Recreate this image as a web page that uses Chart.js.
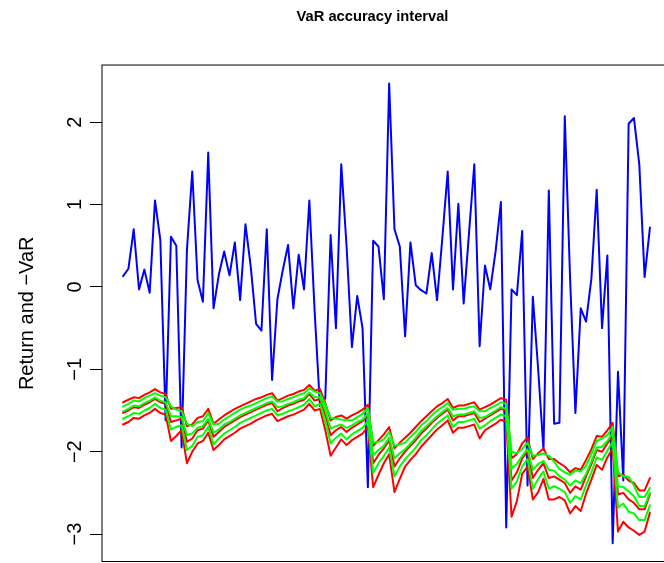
<!DOCTYPE html>
<html>
<head>
<meta charset="utf-8">
<script src="https://cdn.jsdelivr.net/npm/chart.js@4.4.0/dist/chart.umd.min.js"></script>
<style>
  html, body { margin: 0; padding: 0; background: #fff; overflow: hidden; }
  #wrap { width: 745px; height: 563px; }
</style>
</head>
<body>
<div id="wrap"><canvas id="varChart"></canvas></div>
<script>
// daily returns (blue)
const returns = [
  0.13, 0.22, 0.70, -0.03, 0.21, -0.07, 1.05, 0.57, -1.62, 0.61,
  0.50, -1.95, 0.45, 1.40, 0.08, -0.18, 1.63, -0.26, 0.15, 0.43,
  0.14, 0.54, -0.16, 0.76, 0.24, -0.45, -0.53, 0.70, -1.13, -0.15,
  0.20, 0.51, -0.26, 0.39, -0.03, 1.05, -0.30, -1.45, -1.35, 0.63,
  -0.50, 1.49, 0.49, -0.73, -0.11, -0.50, -2.43, 0.56, 0.49, -0.15,
  2.47, 0.70, 0.49, -0.60, 0.54, 0.02, -0.04, -0.08, 0.41, -0.16,
  0.60, 1.40, -0.03, 1.01, -0.20, 0.65, 1.49, -0.72, 0.26, -0.03,
  0.43, 1.03, -2.92, -0.03, -0.10, 0.68, -2.41, -0.12, -1.00, -1.98,
  1.17, -1.66, -1.65, 2.07, 0.10, -1.53, -0.26, -0.42, 0.10, 1.18,
  -0.50, 0.38, -3.11, -1.03, -2.35, 1.98, 2.05, 1.49, 0.12, 0.72
];

// -VaR, red: upper, middle, lower
const redUpper = [
  -1.40, -1.37, -1.34, -1.35, -1.31, -1.28, -1.24, -1.28, -1.30, -1.48,
  -1.47, -1.46, -1.69, -1.67, -1.59, -1.57, -1.48, -1.66, -1.61, -1.56,
  -1.52, -1.48, -1.45, -1.42, -1.39, -1.36, -1.34, -1.31, -1.29, -1.38,
  -1.35, -1.32, -1.30, -1.27, -1.25, -1.19, -1.26, -1.24, -1.41, -1.62,
  -1.58, -1.56, -1.60, -1.56, -1.53, -1.49, -1.43, -1.93, -1.86, -1.79,
  -1.70, -1.96, -1.89, -1.83, -1.77, -1.70, -1.63, -1.57, -1.51, -1.45,
  -1.41, -1.36, -1.47, -1.44, -1.44, -1.42, -1.40, -1.49, -1.46, -1.43,
  -1.39, -1.35, -1.37, -2.08, -2.03, -1.90, -1.83, -2.09, -2.02, -1.96,
  -2.09, -2.09, -2.14, -2.18, -2.25, -2.20, -2.22, -2.10, -1.97, -1.81,
  -1.82, -1.74, -1.65, -2.30, -2.28, -2.35, -2.38, -2.47, -2.47, -2.32
];
const redMid = [
  -1.53, -1.50, -1.46, -1.47, -1.43, -1.40, -1.36, -1.40, -1.42, -1.64,
  -1.62, -1.60, -1.88, -1.84, -1.74, -1.72, -1.62, -1.82, -1.76, -1.70,
  -1.66, -1.62, -1.58, -1.55, -1.52, -1.49, -1.46, -1.43, -1.41, -1.51,
  -1.47, -1.44, -1.42, -1.39, -1.37, -1.30, -1.38, -1.36, -1.55, -1.80,
  -1.74, -1.70, -1.76, -1.71, -1.67, -1.63, -1.56, -2.14, -2.04, -1.96,
  -1.86, -2.18, -2.08, -2.00, -1.93, -1.86, -1.78, -1.72, -1.65, -1.59,
  -1.54, -1.49, -1.62, -1.57, -1.57, -1.55, -1.53, -1.64, -1.60, -1.56,
  -1.52, -1.48, -1.50, -2.35, -2.25, -2.08, -2.00, -2.32, -2.22, -2.14,
  -2.32, -2.30, -2.34, -2.38, -2.50, -2.42, -2.46, -2.30, -2.15, -1.98,
  -2.00, -1.90, -1.80, -2.52, -2.50, -2.58, -2.62, -2.70, -2.70, -2.52
];
const redLower = [
  -1.67, -1.64, -1.59, -1.60, -1.56, -1.53, -1.48, -1.53, -1.55, -1.87,
  -1.81, -1.74, -2.14, -2.00, -1.90, -1.87, -1.77, -1.98, -1.92, -1.85,
  -1.81, -1.77, -1.72, -1.69, -1.66, -1.62, -1.59, -1.56, -1.54, -1.63,
  -1.60, -1.57, -1.55, -1.52, -1.49, -1.42, -1.50, -1.48, -1.74, -2.05,
  -1.95, -1.85, -1.92, -1.86, -1.82, -1.78, -1.70, -2.43, -2.28, -2.14,
  -2.03, -2.49, -2.33, -2.18, -2.10, -2.03, -1.94, -1.87, -1.80, -1.73,
  -1.68, -1.62, -1.77, -1.71, -1.71, -1.69, -1.67, -1.84, -1.74, -1.70,
  -1.66, -1.61, -1.64, -2.79, -2.60, -2.27, -2.18, -2.58, -2.49, -2.33,
  -2.58, -2.58, -2.55, -2.59, -2.75, -2.66, -2.72, -2.51, -2.34, -2.16,
  -2.22, -2.07, -1.96, -2.97, -2.85, -2.92, -2.96, -3.01, -2.97, -2.74
];

// -VaR, green: upper, middle, lower
const greenUpper = [
  -1.45, -1.42, -1.38, -1.39, -1.35, -1.32, -1.29, -1.32, -1.34, -1.45,
  -1.49, -1.51, -1.66, -1.69, -1.64, -1.63, -1.53, -1.67, -1.66, -1.61,
  -1.57, -1.53, -1.49, -1.46, -1.44, -1.41, -1.38, -1.35, -1.33, -1.39,
  -1.39, -1.36, -1.34, -1.31, -1.29, -1.23, -1.27, -1.29, -1.43, -1.59,
  -1.60, -1.61, -1.62, -1.62, -1.58, -1.54, -1.47, -1.89, -1.88, -1.85,
  -1.76, -1.93, -1.91, -1.89, -1.82, -1.76, -1.68, -1.63, -1.56, -1.50,
  -1.46, -1.41, -1.49, -1.48, -1.48, -1.46, -1.45, -1.51, -1.51, -1.47,
  -1.44, -1.40, -1.42, -2.00, -2.02, -1.97, -1.89, -2.05, -2.04, -2.02,
  -2.05, -2.12, -2.21, -2.25, -2.28, -2.23, -2.24, -2.17, -2.03, -1.87,
  -1.84, -1.80, -1.70, -2.25, -2.30, -2.30, -2.41, -2.55, -2.55, -2.44
];
const greenMid = [
  -1.51, -1.48, -1.44, -1.45, -1.41, -1.38, -1.34, -1.38, -1.40, -1.57,
  -1.57, -1.58, -1.80, -1.78, -1.71, -1.69, -1.60, -1.77, -1.73, -1.67,
  -1.64, -1.60, -1.56, -1.53, -1.50, -1.47, -1.44, -1.41, -1.39, -1.46,
  -1.45, -1.42, -1.40, -1.37, -1.35, -1.28, -1.34, -1.34, -1.50, -1.72,
  -1.69, -1.67, -1.71, -1.68, -1.64, -1.61, -1.54, -2.04, -1.98, -1.93,
  -1.83, -2.08, -2.02, -1.97, -1.90, -1.83, -1.75, -1.69, -1.63, -1.57,
  -1.52, -1.47, -1.57, -1.55, -1.55, -1.53, -1.51, -1.59, -1.58, -1.54,
  -1.50, -1.46, -1.48, -2.20, -2.15, -2.05, -1.97, -2.22, -2.15, -2.11,
  -2.22, -2.23, -2.30, -2.34, -2.41, -2.35, -2.38, -2.27, -2.12, -1.95,
  -1.94, -1.87, -1.77, -2.42, -2.43, -2.48, -2.54, -2.66, -2.66, -2.50
];
const greenLower = [
  -1.60, -1.57, -1.53, -1.54, -1.50, -1.47, -1.42, -1.47, -1.49, -1.73,
  -1.70, -1.68, -1.98, -1.93, -1.82, -1.80, -1.70, -1.91, -1.84, -1.78,
  -1.74, -1.70, -1.65, -1.62, -1.59, -1.56, -1.53, -1.50, -1.48, -1.56,
  -1.54, -1.51, -1.49, -1.46, -1.43, -1.36, -1.45, -1.42, -1.63, -1.90,
  -1.83, -1.78, -1.85, -1.79, -1.75, -1.71, -1.63, -2.26, -2.14, -2.05,
  -1.95, -2.30, -2.18, -2.09, -2.02, -1.95, -1.86, -1.80, -1.73, -1.66,
  -1.61, -1.56, -1.70, -1.64, -1.64, -1.62, -1.60, -1.72, -1.68, -1.63,
  -1.59, -1.55, -1.57, -2.45, -2.36, -2.18, -2.09, -2.45, -2.33, -2.24,
  -2.45, -2.42, -2.45, -2.49, -2.62, -2.54, -2.58, -2.41, -2.25, -2.07,
  -2.10, -1.99, -1.88, -2.68, -2.63, -2.73, -2.75, -2.83, -2.83, -2.65
];

const yTicks = [-3, -2, -1, 0, 1, 2];

const fontFamily = "'Liberation Sans', Arial, Helvetica, sans-serif";

function series(values) {
  return values.map((v, i) => ({ x: i + 1, y: v }));
}

function line(values, color, order) {
  return {
    data: series(values),
    borderColor: color,
    borderWidth: 2,
    pointRadius: 0,
    tension: 0,
    fill: false,
    borderJoinStyle: "round",
    borderCapStyle: "round",
    order: order
  };
}

const plotBox = {
  id: "plotBox",
  afterDraw(chart) {
    const a = chart.chartArea;
    const ctx = chart.ctx;
    ctx.save();
    ctx.strokeStyle = "#000";
    ctx.lineWidth = 1;
    ctx.strokeRect(a.left, a.top, a.right - a.left, a.bottom - a.top);
    ctx.restore();
  }
};

new Chart(document.getElementById("varChart"), {
  type: "line",
  data: {
    datasets: [
      line(greenUpper, "#00FF00", 0),
      line(greenMid, "#00FF00", 0),
      line(greenLower, "#00FF00", 0),
      line(redUpper, "#FF0000", 1),
      line(redMid, "#FF0000", 1),
      line(redLower, "#FF0000", 1),
      line(returns, "#0000FF", 2)
    ]
  },
  options: {
    responsive: true,
    maintainAspectRatio: false,
    animation: false,
    events: [],
    layout: { padding: { left: 0, right: 0, top: 0, bottom: 1.5 } },
    plugins: {
      legend: { display: false },
      tooltip: { enabled: false },
      title: {
        display: true,
        text: "VaR accuracy interval",
        color: "#000",
        font: { family: fontFamily, size: 14.7, weight: "bold" },
        padding: { top: 8, bottom: 39.4 }
      }
    },
    scales: {
      x: {
        type: "linear",
        display: false,
        min: -2.96,
        max: 103.96
      },
      y: {
        type: "linear",
        min: -3.333,
        max: 2.693,
        afterBuildTicks: (s) => { s.ticks = yTicks.map(v => ({ value: v })); },
        afterFit: (s) => { s.width = 102; s.paddingTop = 0; s.paddingBottom = 0; },
        border: { display: false },
        grid: { drawOnChartArea: false, drawTicks: true, tickLength: 12, color: "#000", lineWidth: 1 },
        ticks: {
          minRotation: 90,
          maxRotation: 90,
          crossAlign: "center",
          padding: 3,
          color: "#000",
          font: { family: fontFamily, size: 20 },
          callback: (v) => (v < 0 ? "\u2212" + Math.abs(v) : String(v))
        },
        title: {
          display: true,
          text: "Return and \u2212VaR",
          color: "#000",
          font: { family: fontFamily, size: 20 },
          padding: { top: 15, bottom: 0 }
        }
      },
      // empty right margin of the original figure (cut off by the window)
      rightMargin: {
        type: "linear",
        position: "right",
        min: 0,
        max: 1,
        border: { display: false },
        grid: { display: false },
        ticks: { display: false },
        afterFit: (s) => { s.width = 74; s.paddingTop = 0; s.paddingBottom = 0; }
      }
    }
  },
  plugins: [plotBox]
});
</script>
</body>
</html>
